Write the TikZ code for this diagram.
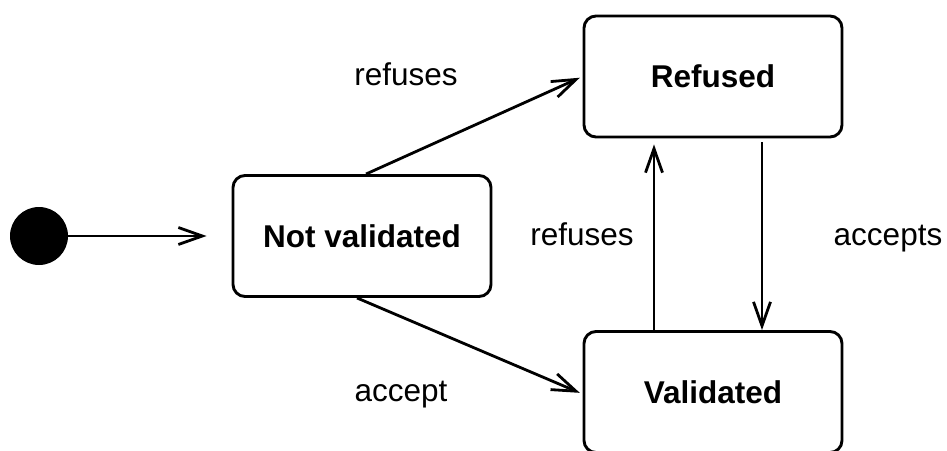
\documentclass[tikz,border=0pt]{standalone}
\usepackage{fontspec}
\setmainfont{Liberation Sans}
\usetikzlibrary{arrows.meta}

\begin{document}
\begin{tikzpicture}[x=1pt,y=-1pt,
  state/.style={draw, line width=2.9pt, rounded corners=12pt,
    minimum width=258pt, minimum height=121pt,
    font=\fontsize{31.5}{37}\selectfont\bfseries},
  trans/.style={line width=2.8pt,
    -{Straight Barb[length=24pt,width=17pt,line width=2.8pt]}},
  lbl/.style={font=\fontsize{31.5}{37}\selectfont, anchor=base}]

  \useasboundingbox (0,0) rectangle (947,450);
  \clip (0,0) rectangle (947,450);

  % states
  \node[circle, fill, minimum size=58pt, inner sep=0pt] (init) at (39,236) {};
  \node[state] (notval) at (362,236) {Not validated};
  \node[state] (refused) at (713,76.5) {Refused};
  \node[state] (valid) at (713,392) {Validated};

  % transitions
  \draw[trans, shorten >=25pt] (init) -- (notval);
  \draw[trans, shorten >=3pt] ([xshift=4pt]notval.north) -- (refused.west);
  \draw[trans, shorten >=3pt] ([xshift=-5pt]notval.south) -- ([yshift=-2pt]valid.west);
  \draw[trans, shorten >=6pt] ([xshift=-59pt]valid.north) -- ([xshift=-59pt]refused.south);
  \draw[trans, shorten <=4pt] ([xshift=49pt]refused.south) -- ([xshift=49pt]valid.north);

  % labels
  \node[lbl] (lrefuses) at (406,85) {refuses};
  \node[lbl] (laccept) at (401,401) {accept};
  \node[lbl] (lrefusesb) at (582,245) {refuses};
  \node[lbl] (laccepts) at (888,245) {accepts};
\end{tikzpicture}
\end{document}
